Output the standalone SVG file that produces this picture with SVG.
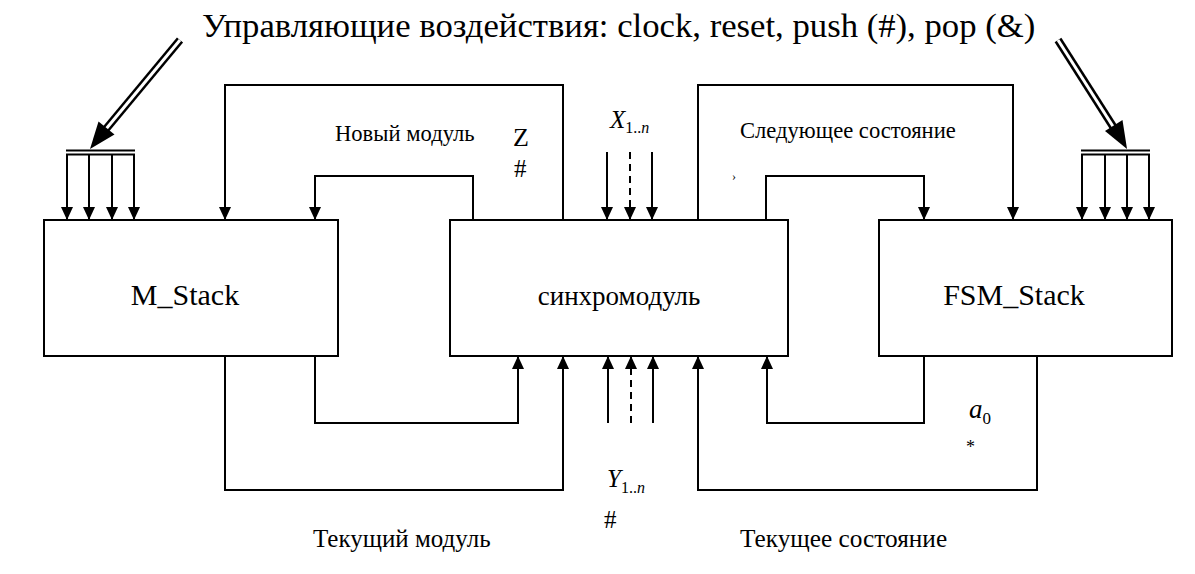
<svg xmlns="http://www.w3.org/2000/svg" width="1195" height="574" viewBox="0 0 1195 574">
<defs>
<style>
.box{fill:#fff;stroke:#000;stroke-width:2}
.ln{fill:none;stroke:#000;stroke-width:2}
.ar{fill:none;stroke:#000;stroke-width:2;marker-end:url(#ah)}
.dash{fill:none;stroke:#000;stroke-width:2;stroke-dasharray:7,5;marker-end:url(#ah)}
.t{fill:#000}
.i{font-style:italic}
</style>
<marker id="ah" viewBox="0 0 13 12" refX="13" refY="6" markerWidth="13" markerHeight="12" orient="auto" markerUnits="userSpaceOnUse">
<path d="M0,0 L13,6 L0,12 z" fill="#000"/>
</marker>
</defs>
<rect width="1195" height="574" fill="#fff"/>

<g id="connectors">
<line x1="66" y1="150.5" x2="135" y2="150.5" class="ln" stroke-width="1.8"/>
<line x1="66" y1="154.5" x2="135" y2="154.5" class="ln" stroke-width="1.8"/>
<line x1="67" y1="155" x2="67" y2="220" class="ar"/>
<line x1="89" y1="155" x2="89" y2="220" class="ar"/>
<line x1="112" y1="155" x2="112" y2="220" class="ar"/>
<line x1="134" y1="155" x2="134" y2="220" class="ar"/>
<line x1="180" y1="40" x2="106" y2="129" stroke="#000" stroke-width="8"/>
<line x1="180" y1="40" x2="106" y2="129" stroke="#fff" stroke-width="3"/>
<polygon points="90,149 98.5,121.5 114.5,134.5" fill="#000"/>
<line x1="1081" y1="150.5" x2="1150" y2="150.5" class="ln" stroke-width="1.8"/>
<line x1="1081" y1="154.5" x2="1150" y2="154.5" class="ln" stroke-width="1.8"/>
<line x1="1082" y1="155" x2="1082" y2="220" class="ar"/>
<line x1="1105" y1="155" x2="1105" y2="220" class="ar"/>
<line x1="1127" y1="155" x2="1127" y2="220" class="ar"/>
<line x1="1149" y1="155" x2="1149" y2="220" class="ar"/>
<line x1="1058" y1="40" x2="1114" y2="128" stroke="#000" stroke-width="8"/>
<line x1="1058" y1="40" x2="1114" y2="128" stroke="#fff" stroke-width="3"/>
<polygon points="1127,149 1105,131 1122.5,120" fill="#000"/>
<polyline points="563,220 563,85 225,85 225,220" class="ar"/>
<polyline points="473,220 473,176 315,176 315,220" class="ar"/>
<polyline points="698,220 698,85 1013,85 1013,220" class="ar"/>
<polyline points="766,220 766,176 924,176 924,220" class="ar"/>
<line x1="607" y1="152" x2="607" y2="220" class="ar"/>
<line x1="630" y1="152" x2="630" y2="220" class="dash"/>
<line x1="652" y1="152" x2="652" y2="220" class="ar"/>
<polyline points="315,356 315,423 518,423 518,356" class="ar"/>
<polyline points="225,356 225,490 563,490 563,356" class="ar"/>
<polyline points="924,356 924,423 767,423 767,356" class="ar"/>
<polyline points="1037,356 1037,490 698,490 698,356" class="ar"/>
<line x1="608" y1="423" x2="608" y2="356" class="ar"/>
<line x1="631" y1="423" x2="631" y2="356" class="dash"/>
<line x1="653" y1="423" x2="653" y2="356" class="ar"/>
</g>

<g font-family="Liberation Serif, DejaVu Serif, Noto Serif, serif">
<g id="m_stack">
<rect x="44" y="220" width="294" height="136" class="box"/>
<text x="185" y="305" class="t" font-size="30" text-anchor="middle">M_Stack</text>
</g>
<g id="sync">
<rect x="450" y="220" width="338" height="136" class="box"/>
<text x="619" y="305" class="t" font-size="27" text-anchor="middle">синхромодуль</text>
</g>
<g id="fsm_stack">
<rect x="879" y="220" width="293" height="136" class="box"/>
<text x="1014" y="305" class="t" font-size="30" text-anchor="middle">FSM_Stack</text>
</g>

<g id="labels">
<text x="202" y="37" class="t" font-size="34.7">Управляющие воздействия: clock, reset, push (#), pop (&amp;)</text>
<text x="335" y="141" class="t" font-size="22.6">Новый модуль</text>
<text x="513" y="146" class="t" font-size="26">Z</text>
<text x="514" y="177" class="t" font-size="25">#</text>
<text x="610" y="128" class="t" font-size="25"><tspan class="i">X</tspan><tspan font-size="16" dy="5">1..</tspan><tspan font-size="16" class="i">n</tspan></text>
<text x="740" y="138" class="t" font-size="22.6">Следующее состояние</text>
<text x="732" y="180" class="t" font-size="12">›</text>
<text x="969" y="418" class="t" font-size="27"><tspan class="i">a</tspan><tspan font-size="17" dy="6">0</tspan></text>
<text x="966" y="453" class="t" font-size="18">*</text>
<text x="607" y="487" class="t" font-size="25"><tspan class="i">Y</tspan><tspan font-size="16" dy="6">1..</tspan><tspan font-size="16" class="i">n</tspan></text>
<text x="604" y="528" class="t" font-size="25">#</text>
<text x="313" y="547" class="t" font-size="25">Текущий модуль</text>
<text x="740" y="547" class="t" font-size="25.3">Текущее состояние</text>
</g>
</g>
</svg>
